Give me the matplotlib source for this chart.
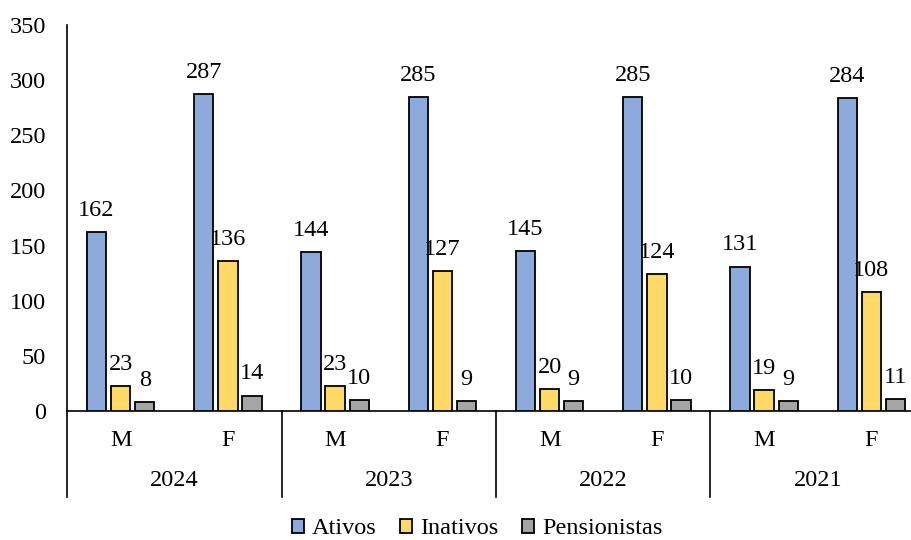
import matplotlib.pyplot as plt
import matplotlib.transforms as mtransforms
from matplotlib.patches import Patch
import numpy as np

plt.rcParams['font.family'] = ['Liberation Serif', 'DejaVu Serif']

years = ['2024', '2023', '2022', '2021']
sexes = ['M', 'F']
series = ['Ativos', 'Inativos', 'Pensionistas']
ativos = [162, 287, 144, 285, 145, 285, 131, 284]
inativos = [23, 136, 23, 127, 20, 124, 19, 108]
pensionistas = [8, 14, 10, 9, 9, 10, 9, 11]
colors = ['#8EA9DB', '#FFD966', '#A5A5A5']
fs = 17.5

W, H = 912, 540
fig = plt.figure(figsize=(W / 100, H / 100), dpi=100)
x0, x1, ytop, ybot = 67, 925, 25, 411
ax = fig.add_axes([x0 / W, (H - ybot) / H, (x1 - x0) / W, (ybot - ytop) / H])

ncat = len(years) * len(sexes)
x = np.arange(ncat)
bw = 0.18
off = 0.225
for i, (vals, c) in enumerate(zip([ativos, inativos, pensionistas], colors)):
    pos = x + (i - 1) * off
    ax.bar(pos, vals, width=bw, color=c, edgecolor='black', linewidth=1.3, zorder=3)
    for xp, v in zip(pos, vals):
        ax.annotate(str(v), (xp, v), xytext=(0, 8), textcoords='offset points',
                    ha='center', va='bottom', fontsize=fs)

ax.set_xlim(-0.5, ncat - 0.5)
ax.set_ylim(0, 350)
ax.set_yticks(range(0, 351, 50))
ax.tick_params(axis='y', length=0, labelsize=fs, pad=15)
ax.set_xticks([])
for s in ['top', 'right']:
    ax.spines[s].set_visible(False)
ax.spines['left'].set_linewidth(1.2)
ax.spines['bottom'].set_linewidth(1.2)

# category labels below axis (two levels)
trans = mtransforms.blended_transform_factory(ax.transData, ax.transAxes)
ph = ybot - ytop
y_sex = -(440 - ybot) / ph
y_year = -(481 - ybot) / ph
y_end = -(497 - ybot) / ph
for k in range(ncat):
    ax.text(k, y_sex, sexes[k % 2], transform=trans, ha='center', va='center', fontsize=fs)
for j, yr in enumerate(years):
    ax.text(2 * j + 0.5, y_year, yr, transform=trans, ha='center', va='center', fontsize=fs)
for j in range(len(years) + 1):
    xb = 2 * j - 0.5
    ax.plot([xb, xb], [0, y_end], transform=trans, color='black', lw=1.2, clip_on=False)

handles = [Patch(facecolor=c, edgecolor='black', linewidth=1.3) for c in colors]
fig.legend(handles, series, loc='center', bbox_to_anchor=(477 / W, 1 - 529 / H), ncol=3,
           frameon=False, fontsize=fs, handlelength=0.5, handleheight=0.5,
           handletextpad=0.3, columnspacing=1.0)

fig.savefig('out.png', dpi=100)
